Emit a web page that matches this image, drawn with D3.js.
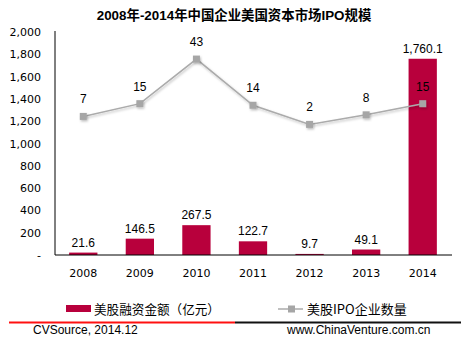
<!DOCTYPE html>
<html><head><meta charset="utf-8">
<script src="https://cdn.jsdelivr.net/npm/d3@7/dist/d3.min.js"></script>
<style>body{margin:0;background:#fff;}svg{display:block;}</style>
</head><body>
<svg id="c" width="465" height="340"></svg>
<script>
const years = ["2008","2009","2010","2011","2012","2013","2014"];
const financing = [21.6,146.5,267.5,122.7,9.7,49.1,1760.1];
const ipoCount = [7,15,43,14,2,8,15];
const yTicks = [0,200,400,600,800,1000,1200,1400,1600,1800,2000];
const title = "2008年-2014年中国企业美国资本市场IPO规模";
const legendBar = "美股融资金额（亿元）";
const legendLine = "美股IPO企业数量";
const sourceLeft = "CVSource, 2014.12";
const sourceRight = "www.ChinaVenture.com.cn";

(function(){
const svg = d3.select("#c");
const pL = 55, pR = 451, pT = 32, pB = 255;
const x = d3.scaleBand().domain(years).range([pL, pR]).paddingInner(0.5).paddingOuter(0.25);
const y = d3.scaleLinear().domain([0,2000]).range([pB, pT]);
const y2 = d3.scaleLinear().domain([-80,60]).range([pB, pT]);
const barColor = "#B8003C";

svg.append("text").attr("x",234).attr("y",20).attr("text-anchor","middle")
  .attr("font-family","'Liberation Sans','Noto Sans CJK SC',sans-serif").attr("font-weight","bold")
  .attr("font-size",13.4).attr("fill","#000").text(title);

// y axis
const yAxis = d3.axisLeft(y).tickValues(yTicks).tickSize(0).tickPadding(14)
  .tickFormat(d => d===0 ? "-" : d3.format(",")(d));
const ga = svg.append("g").attr("transform",`translate(${pL},0)`).call(yAxis);
ga.select(".domain").remove();
ga.selectAll("text").attr("font-family","'DejaVu Sans',sans-serif").attr("font-size",11).attr("fill","#000");
svg.append("line").attr("x1",pL).attr("x2",pL).attr("y1",pT-1).attr("y2",pB).attr("stroke","#000");

// bars
svg.append("g").selectAll("rect").data(financing).join("rect")
  .attr("x",(d,i)=>x(years[i])).attr("width",x.bandwidth())
  .attr("y",d=>y(d)).attr("height",d=>pB-y(d)).attr("fill",barColor);

// x axis
svg.append("line").attr("x1",pL).attr("x2",pR+1).attr("y1",pB).attr("y2",pB).attr("stroke","#000");
const xAxis = d3.axisBottom(x).tickSize(0).tickPadding(14);
const gx = svg.append("g").attr("transform",`translate(0,${pB})`).call(xAxis);
gx.select(".domain").remove();
gx.selectAll("text").attr("font-family","'DejaVu Sans',sans-serif").attr("font-size",11).attr("fill","#000");

// bar labels
svg.append("g").selectAll("text").data(financing).join("text")
  .attr("x",(d,i)=>x(years[i])+x.bandwidth()/2).attr("y",d=>y(d)-6)
  .attr("text-anchor","middle").attr("font-family","'Liberation Sans',Arial,sans-serif")
  .attr("font-size",12).attr("fill","#000").text(d=>d3.format(",.1f")(d));

// line
const defs = svg.append("defs");
const f = defs.append("filter").attr("id","sh").attr("x","-50%").attr("y","-50%").attr("width","200%").attr("height","200%");
f.append("feDropShadow").attr("dx",1).attr("dy",1.5).attr("stdDeviation",1).attr("flood-color","#000").attr("flood-opacity",0.25);
const cx = i => x(years[i])+x.bandwidth()/2;
const line = d3.line().x((d,i)=>cx(i)).y(d=>y2(d));
svg.append("path").datum(ipoCount).attr("d",line).attr("fill","none").attr("stroke","#ABABAB").attr("stroke-width",1.5).attr("filter","url(#sh)");
svg.append("g").selectAll("rect").data(ipoCount).join("rect")
  .attr("x",(d,i)=>cx(i)-3.5).attr("y",d=>y2(d)-3.5).attr("width",7).attr("height",7)
  .attr("fill","#A6A6A6").attr("filter","url(#sh)");
svg.append("g").selectAll("text").data(ipoCount).join("text")
  .attr("x",(d,i)=>cx(i)).attr("y",d=>y2(d)-13)
  .attr("text-anchor","middle").attr("font-family","'Liberation Sans',Arial,sans-serif")
  .attr("font-size",12).attr("fill","#000").text(d=>d);

// legend
svg.append("rect").attr("x",66).attr("y",305).attr("width",25).attr("height",7).attr("fill",barColor);
svg.append("text").attr("x",94).attr("y",314).attr("font-family","'Noto Sans CJK SC',sans-serif")
  .attr("font-size",12.6).attr("fill","#000").text(legendBar);
svg.append("line").attr("x1",278).attr("x2",303).attr("y1",309).attr("y2",309).attr("stroke","#ABABAB").attr("stroke-width",1.5);
svg.append("rect").attr("x",288).attr("y",305.5).attr("width",7).attr("height",7).attr("fill","#A6A6A6");
svg.append("text").attr("x",307).attr("y",314).attr("font-family","'Noto Sans CJK SC',sans-serif")
  .attr("font-size",13).attr("fill","#000").text(legendLine);

// footer
svg.append("line").attr("x1",9).attr("x2",235).attr("y1",322.5).attr("y2",322.5).attr("stroke","#FF1010").attr("stroke-width",2);
svg.append("line").attr("x1",235).attr("x2",461).attr("y1",322.5).attr("y2",322.5).attr("stroke","#111").attr("stroke-width",2);
svg.append("text").attr("x",33).attr("y",334).attr("font-family","'Liberation Sans',Arial,sans-serif")
  .attr("font-size",12).attr("fill","#000").text(sourceLeft);
svg.append("text").attr("x",287).attr("y",334).attr("font-family","'Liberation Sans',Arial,sans-serif")
  .attr("font-size",12).attr("fill","#000").text(sourceRight);
})();
</script>
</body></html>
